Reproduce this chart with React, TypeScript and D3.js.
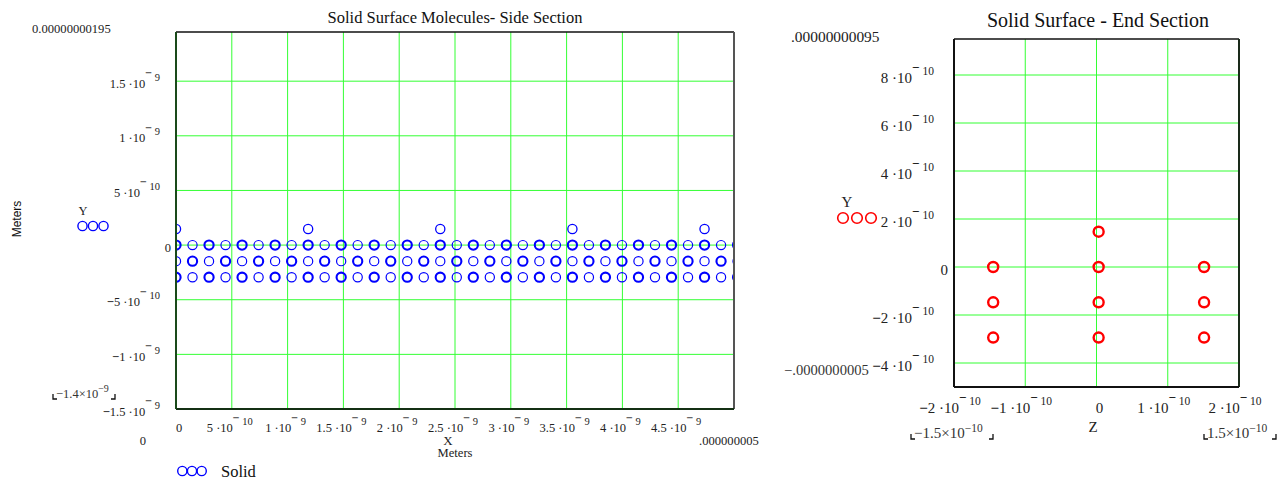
import React from "react";
import * as d3 from "d3";

// ---------- DATA ----------
// Side section: lattice column positions (m)
const SIDE_X_COLUMNS = [
  0, 0.148e-9, 0.296e-9, 0.444e-9, 0.592e-9, 0.74e-9, 0.888e-9, 1.036e-9, 1.184e-9,
  1.332e-9, 1.48e-9, 1.628e-9, 1.776e-9, 1.924e-9, 2.072e-9, 2.22e-9, 2.368e-9,
  2.516e-9, 2.664e-9, 2.812e-9, 2.96e-9, 3.108e-9, 3.256e-9, 3.404e-9, 3.552e-9,
  3.7e-9, 3.848e-9, 3.996e-9, 4.144e-9, 4.292e-9, 4.44e-9, 4.588e-9, 4.736e-9,
  4.884e-9, 5.032e-9,
];
// Side section: lattice row heights (m)
const SIDE_Y_ROWS = [0, -1.47e-10, -2.94e-10];
// Side section: surface adsorbed molecules
const SIDE_TOP_X = [0, 1.184e-9, 2.368e-9, 3.552e-9, 4.736e-9];
const SIDE_TOP_Y = [1.47e-10, 1.47e-10, 1.47e-10, 1.47e-10, 1.47e-10];

// End section points (Z, Y)
const END_Z = [-1.45e-10, -1.45e-10, -1.45e-10, 0.03e-10, 0.03e-10, 0.03e-10, 0.03e-10, 1.51e-10, 1.51e-10, 1.51e-10];
const END_Y = [0, -1.47e-10, -2.94e-10, 1.47e-10, 0, -1.47e-10, -2.94e-10, 0, -1.47e-10, -2.94e-10];

// Axes
const SIDE_X_DOMAIN = [0, 5e-9];
const SIDE_Y_DOMAIN = [-1.5e-9, 1.95e-9];
const SIDE_X_TICKS = [0, 5e-10, 1e-9, 1.5e-9, 2e-9, 2.5e-9, 3e-9, 3.5e-9, 4e-9, 4.5e-9];
const SIDE_X_LABELS = ["0", "5·10^-10", "1·10^-9", "1.5·10^-9", "2·10^-9", "2.5·10^-9", "3·10^-9", "3.5·10^-9", "4·10^-9", "4.5·10^-9"];
const SIDE_Y_TICKS = [1.5e-9, 1e-9, 5e-10, 0, -5e-10, -1e-9, -1.5e-9];
const SIDE_Y_LABELS = ["1.5·10^-9", "1·10^-9", "5·10^-10", "0", "-5·10^-10", "-1·10^-9", "-1.5·10^-9"];
const SIDE_X_GRID = [5e-10, 1e-9, 1.5e-9, 2e-9, 2.5e-9, 3e-9, 3.5e-9, 4e-9, 4.5e-9];
const SIDE_Y_GRID = [1.5e-9, 1e-9, 5e-10, 0, -5e-10, -1e-9];

const END_X_DOMAIN = [-2e-10, 2e-10];
const END_Y_DOMAIN = [-5e-10, 9.5e-10];
const END_X_TICKS = [-2e-10, -1e-10, 0, 1e-10, 2e-10];
const END_X_LABELS = ["-2·10^-10", "-1·10^-10", "0", "1·10^-10", "2·10^-10"];
const END_Y_TICKS = [8e-10, 6e-10, 4e-10, 2e-10, 0, -2e-10, -4e-10];
const END_Y_LABELS = ["8·10^-10", "6·10^-10", "4·10^-10", "2·10^-10", "0", "-2·10^-10", "-4·10^-10"];
const END_X_GRID = [-1e-10, 0, 1e-10];
const END_Y_GRID = [8e-10, 6e-10, 4e-10, 2e-10, 0, -2e-10, -4e-10];

// ---------- LAYOUT ----------
const SERIF = "'Liberation Serif', 'Times New Roman', serif";
const SANS = "'Liberation Sans', Arial, sans-serif";
const GRID = "#33ff33";

const L = { x0: 176, x1: 734, y0: 32, y1: 409 };
const R = { x0: 954, x1: 1239, y0: 39, y1: 387 };

function SciLabel({ x, y, label, anchor, fs, efs, rise }: any) {
  if (!label.includes("^")) {
    const neg = label.startsWith("-");
    return (
      <text x={x} y={y} textAnchor={anchor} fontFamily={SERIF} fontSize={fs} fill="#222">
        {neg && <tspan fontWeight="bold">−</tspan>}
        {neg ? label.slice(1) : label}
      </text>
    );
  }
  const [mant, exp] = label.split("^");
  const neg = mant.startsWith("-");
  const body = (neg ? mant.slice(1) : mant).replace("·", " ·");
  const expDigits = exp.replace("-", "");
  return (
    <text x={x} y={y} textAnchor={anchor} fontFamily={SERIF} fontSize={fs} fill="#222">
      {neg && <tspan fontWeight="bold">−</tspan>}
      {body}
      <tspan dy={-rise - 3.5} fontSize={efs * 1.15} fontWeight="bold">−</tspan>
      <tspan dy={3.5} fontSize={efs}>{" " + expDigits}</tspan>
    </text>
  );
}

function Bracket({ x, y, w, text, exp, fs, efs }: any) {
  // Mathcad style range marker with corner brackets
  return (
    <g>
      <path d={`M${x},${y - 4} L${x},${y + 1} L${x + 4},${y + 1}`} stroke="#111" strokeWidth={1.3} fill="none" />
      <path d={`M${x + w},${y - 4} L${x + w},${y + 1} L${x + w - 4},${y + 1}`} stroke="#111" strokeWidth={1.3} fill="none" />
      <text x={x + 3} y={y} fontFamily={SERIF} fontSize={fs} fill="#333">
        {text}
        <tspan dy={-6} fontSize={efs}>{exp}</tspan>
      </text>
    </g>
  );
}

export default function App() {
  const xL = d3.scaleLinear().domain(SIDE_X_DOMAIN).range([L.x0, L.x1]);
  const yL = d3.scaleLinear().domain(SIDE_Y_DOMAIN).range([L.y1, L.y0]);
  const xR = d3.scaleLinear().domain(END_X_DOMAIN).range([R.x0, R.x1]);
  const yR = d3.scaleLinear().domain(END_Y_DOMAIN).range([R.y1, R.y0]);

  const lattice: { x: number; y: number; bold: boolean }[] = [];
  SIDE_Y_ROWS.forEach((yv, ri) => {
    SIDE_X_COLUMNS.forEach((xv, ci) => {
      lattice.push({ x: xv, y: yv, bold: (ci + ri) % 2 === 0 });
    });
  });

  return (
    <svg width={1284} height={485} style={{ position: "absolute", left: 0, top: 0, background: "#fff" }}>
      <defs>
        <clipPath id="clipL">
          <rect x={L.x0} y={L.y0} width={L.x1 - L.x0} height={L.y1 - L.y0} />
        </clipPath>
        <clipPath id="clipR">
          <rect x={R.x0} y={R.y0} width={R.x1 - R.x0} height={R.y1 - R.y0} />
        </clipPath>
      </defs>

      {/* ===== LEFT: Side Section ===== */}
      <text x={455} y={23} textAnchor="middle" fontFamily={SERIF} fontSize={16.5} fill="#111">
        Solid Surface Molecules- Side Section
      </text>
      {SIDE_X_GRID.map((v, i) => (
        <line key={"lgx" + i} x1={xL(v)} x2={xL(v)} y1={L.y0} y2={L.y1} stroke={GRID} strokeWidth={1} />
      ))}
      {SIDE_Y_GRID.map((v, i) => (
        <line key={"lgy" + i} x1={L.x0} x2={L.x1} y1={yL(v)} y2={yL(v)} stroke={GRID} strokeWidth={1} />
      ))}
      <g clipPath="url(#clipL)">
        {lattice.map((p, i) => (
          <circle key={"lat" + i} cx={xL(p.x)} cy={yL(p.y)} r={4.6} fill="none" stroke="#0000ff"
            strokeWidth={p.bold ? 2.1 : 1.2} />
        ))}
        {SIDE_TOP_X.map((xv, i) => (
          <circle key={"top" + i} cx={xL(xv)} cy={yL(SIDE_TOP_Y[i])} r={4.6} fill="none" stroke="#0000ff" strokeWidth={1.3} />
        ))}
      </g>
      {/* frame */}
      <line x1={L.x0} x2={L.x1} y1={L.y0} y2={L.y0} stroke="#111" strokeWidth={1.5} />
      <line x1={L.x1} x2={L.x1} y1={L.y0} y2={L.y1} stroke="#555" strokeWidth={2} />
      <line x1={L.x0} x2={L.x1} y1={L.y1} y2={L.y1} stroke="#143014" strokeWidth={2} />
      <line x1={L.x0} x2={L.x0} y1={L.y0} y2={L.y1} stroke="#1a4a1a" strokeWidth={2} />

      {SIDE_Y_TICKS.map((v, i) =>
        SIDE_Y_LABELS[i] === "0" ? (
          <SciLabel key={"lyt" + i} x={171} y={yL(v) + 6.5} label="0" anchor="end" fs={12.5} />
        ) : (
          <SciLabel key={"lyt" + i} x={160} y={yL(v) + 6.5} label={SIDE_Y_LABELS[i]} anchor="end" fs={12.5} efs={10.5} rise={7} />
        )
      )}
      {SIDE_X_TICKS.map((v, i) => (
        <SciLabel key={"lxt" + i} x={i === 0 ? xL(v) + 3 : xL(v) - 2} y={L.y1 + 23} label={SIDE_X_LABELS[i]} anchor="middle" fs={12.5} efs={10.5} rise={7} />
      ))}
      <text x={32} y={33} fontFamily={SERIF} fontSize={12.6} fill="#222">0.00000000195</text>
      <text x={143} y={445} textAnchor="middle" fontFamily={SERIF} fontSize={12.6} fill="#222">0</text>
      <text x={699} y={445} fontFamily={SERIF} fontSize={12.6} fill="#222">.000000005</text>
      <Bracket x={53} y={398} w={62} text="−1.4×10" exp="−9" fs={12.5} efs={10} />
      <text x={448} y={445} textAnchor="middle" fontFamily={SERIF} fontSize={13} fill="#222">X</text>
      <text x={455} y={457} textAnchor="middle" fontFamily={SERIF} fontSize={12.6} fill="#222">Meters</text>
      <text transform="translate(21,219) rotate(-90)" textAnchor="middle" fontFamily={SANS} fontSize={12} fill="#111">Meters</text>
      <text x={83} y={215} textAnchor="middle" fontFamily={SERIF} fontSize={12.5} fill="#222">Y</text>
      {[82.5, 93, 103.5].map((cx, i) => (
        <circle key={"lyl" + i} cx={cx} cy={226} r={4.6} fill="none" stroke="#0000ff" strokeWidth={1.4} />
      ))}
      {[182.3, 192, 201.7].map((cx, i) => (
        <circle key={"lleg" + i} cx={cx} cy={471} r={4.6} fill="none" stroke="#0000ff" strokeWidth={1.4} />
      ))}
      <text x={221} y={477} fontFamily={SERIF} fontSize={16.5} fill="#111">Solid</text>

      {/* ===== RIGHT: End Section ===== */}
      <text x={1098} y={27} textAnchor="middle" fontFamily={SERIF} fontSize={20} fill="#111">
        Solid Surface - End Section
      </text>
      {END_X_GRID.map((v, i) => (
        <line key={"rgx" + i} x1={xR(v)} x2={xR(v)} y1={R.y0} y2={R.y1} stroke={GRID} strokeWidth={1} />
      ))}
      {END_Y_GRID.map((v, i) => (
        <line key={"rgy" + i} x1={R.x0} x2={R.x1} y1={yR(v)} y2={yR(v)} stroke={GRID} strokeWidth={1} />
      ))}
      <g clipPath="url(#clipR)">
        {END_Z.map((zv, i) => (
          <circle key={"end" + i} cx={xR(zv)} cy={yR(END_Y[i])} r={5} fill="none" stroke="#ff0000" strokeWidth={2.4} />
        ))}
      </g>
      <line x1={R.x0} x2={R.x1} y1={R.y0} y2={R.y0} stroke="#111" strokeWidth={1.5} />
      <line x1={R.x1} x2={R.x1} y1={R.y0} y2={R.y1} stroke="#1a2a1a" strokeWidth={2} />
      <line x1={R.x0} x2={R.x1} y1={R.y1} y2={R.y1} stroke="#111" strokeWidth={2} />
      <line x1={R.x0} x2={R.x0} y1={R.y0} y2={R.y1} stroke="#111" strokeWidth={2} />

      {END_Y_TICKS.map((v, i) =>
        END_Y_LABELS[i] === "0" ? (
          <SciLabel key={"ryt" + i} x={948} y={yR(v) + 7.5} label="0" anchor="end" fs={15} />
        ) : (
          <SciLabel key={"ryt" + i} x={934} y={yR(v) + 8} label={END_Y_LABELS[i]} anchor="end" fs={15} efs={11.5} rise={8} />
        )
      )}
      {END_X_TICKS.map((v, i) => (
        <SciLabel key={"rxt" + i} x={END_X_LABELS[i] === "0" ? xR(v) + 3 : xR(v) - 4} y={R.y1 + 26} label={END_X_LABELS[i]} anchor="middle" fs={15} efs={11.5} rise={8} />
      ))}
      <text x={791} y={42} fontFamily={SERIF} fontSize={15.4} fill="#222">.00000000095</text>
      <text x={784} y={375} fontFamily={SERIF} fontSize={14.6} fill="#333">−.0000000005</text>
      <text x={847} y={207} textAnchor="middle" fontFamily={SERIF} fontSize={15} fill="#222">Y</text>
      {[843, 857, 871].map((cx, i) => (
        <circle key={"ryl" + i} cx={cx} cy={218} r={5.3} fill="none" stroke="#ff0000" strokeWidth={1.6} />
      ))}
      <text x={1093} y={432} textAnchor="middle" fontFamily={SERIF} fontSize={15} fill="#222">Z</text>
      <Bracket x={911} y={438} w={82} text="−1.5×10" exp="−10" fs={15} efs={11.5} />
      <Bracket x={1204} y={438} w={72} text="1.5×10" exp="−10" fs={15} efs={11.5} />
    </svg>
  );
}
